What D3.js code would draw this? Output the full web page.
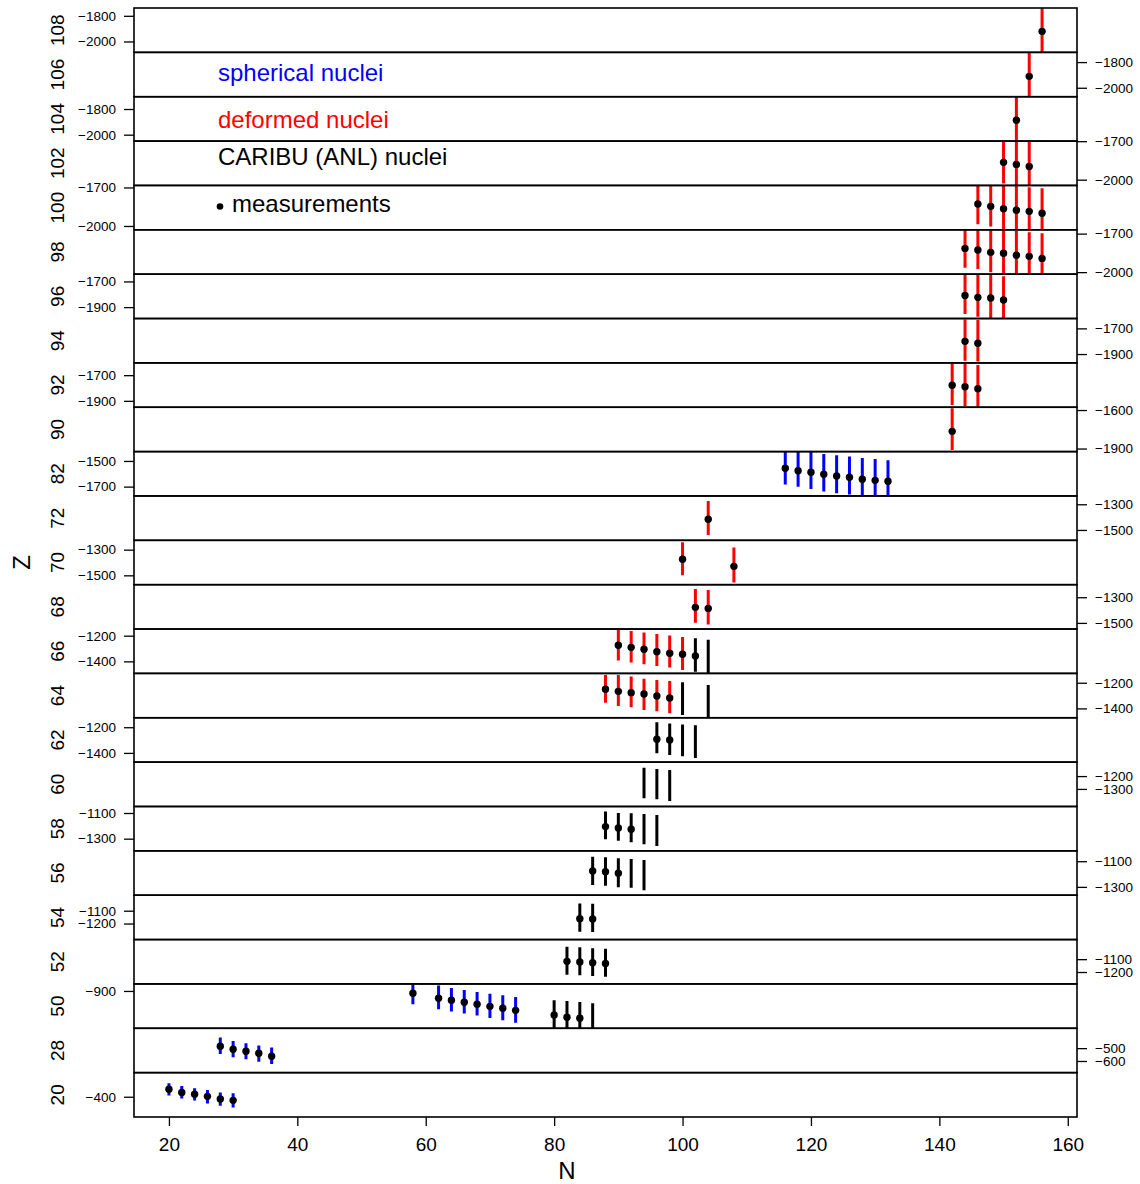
<!DOCTYPE html>
<html>
<head>
<meta charset="utf-8">
<script src="https://cdn.jsdelivr.net/npm/d3@7"></script>
<style>
body { margin: 0; background: #fff; }
text { font-family: "Liberation Sans", Arial, sans-serif; }
</style>
</head>
<body>
<script>
// one panel per proton number, bottom to top
var panelZ = [20, 28, 50, 52, 54, 56, 58, 60, 62, 64, 66, 68, 70, 72, 82, 90, 92, 94, 96, 98, 100, 102, 104, 106, 108];
var panelCentre = [-385, -518, -1018, -1120, -1152, -1192, -1222, -1264, -1299, -1300, -1321, -1375, -1400, -1408,
	-1600, -1751, -1777, -1796, -1816, -1843, -1857, -1872, -1877, -1897, -1912];
var panelSpan = 320;
var panelTicks = [[-400], [-500, -600], [-900], [-1100, -1200], [-1100, -1200], [-1100, -1300], [-1100, -1300],
	[-1200, -1300], [-1200, -1400], [-1200, -1400], [-1200, -1400], [-1300, -1500], [-1300, -1500], [-1300, -1500],
	[-1500, -1700], [-1600, -1900], [-1700, -1900], [-1700, -1900], [-1700, -1900], [-1700, -2000], [-1700, -2000],
	[-1700, -2000], [-1800, -2000], [-1800, -2000], [-1800, -2000]];
var xTicks = [20, 40, 60, 80, 100, 120, 140, 160];

// [Z, N, value, error up, error down]
var spherical = [
	[20, 20, -342, 47, 49], [20, 22, -366, 49, 47], [20, 24, -381, 47, 49], [20, 26, -397, 49, 55],
	[20, 28, -418, 52, 52], [20, 30, -428, 55, 55],
	[28, 28, -485, 68, 60], [28, 30, -509, 65, 62], [28, 32, -524, 62, 62], [28, 34, -540, 60, 65], [28, 36, -563, 68, 60],
	[50, 58, -918, 90, 86], [50, 62, -957, 99, 86], [50, 64, -973, 96, 88], [50, 66, -988, 96, 88],
	[50, 68, -1004, 96, 88], [50, 70, -1020, 99, 91], [50, 72, -1035, 101, 93], [50, 74, -1051, 104, 96],
	[82, 116, -1557, 155, 126], [82, 118, -1576, 155, 125], [82, 120, -1588, 158, 130], [82, 122, -1604, 158, 135],
	[82, 124, -1617, 161, 135], [82, 126, -1627, 161, 135], [82, 128, -1643, 166, 135], [82, 130, -1651, 166, 135],
	[82, 132, -1658, 163, 135]
];

var deformed = [
	[64, 88, -1251, 111, 104], [64, 90, -1267, 127, 114], [64, 92, -1277, 125, 114], [64, 94, -1288, 119, 125],
	[64, 96, -1303, 125, 119], [64, 98, -1319, 132, 119],
	[66, 90, -1275, 125, 119], [66, 92, -1291, 127, 117], [66, 94, -1306, 130, 117], [66, 96, -1325, 138, 111],
	[66, 98, -1337, 138, 111], [66, 100, -1345, 135, 122],
	[68, 102, -1379, 143, 119], [68, 104, -1387, 143, 125],
	[70, 100, -1375, 132, 125], [70, 108, -1430, 146, 125],
	[72, 104, -1417, 143, 122],
	[90, 142, -1766, 179, 146],
	[92, 142, -1779, 171, 153], [92, 144, -1790, 182, 150], [92, 146, -1806, 185, 140],
	[94, 144, -1801, 171, 151], [94, 146, -1816, 182, 143],
	[96, 144, -1810, 175, 144], [96, 146, -1824, 180, 151], [96, 148, -1829, 180, 160], [96, 150, -1845, 185, 165],
	[98, 144, -1815, 175, 150], [98, 146, -1828, 180, 148], [98, 148, -1846, 180, 155], [98, 150, -1853, 185, 165],
	[98, 152, -1869, 190, 170], [98, 154, -1877, 187, 165], [98, 156, -1893, 195, 160],
	[100, 146, -1829, 143, 158], [100, 148, -1847, 165, 158], [100, 150, -1866, 180, 170], [100, 152, -1878, 190, 175],
	[100, 154, -1886, 187, 170], [100, 156, -1901, 195, 175],
	[102, 150, -1865, 161, 164], [102, 152, -1881, 200, 190], [102, 154, -1897, 192, 180],
	[104, 152, -1888, 200, 200],
	[106, 154, -1911, 200, 200],
	[108, 156, -1921, 200, 200]
];

var caribuMeasured = [
	[50, 80, -1087, 114, 114], [50, 82, -1105, 127, 127], [50, 84, -1113, 127, 127],
	[52, 82, -1117, 114, 104], [52, 84, -1122, 114, 104], [52, 86, -1128, 114, 104], [52, 88, -1133, 114, 104],
	[54, 84, -1162, 119, 101], [54, 86, -1164, 119, 101],
	[56, 86, -1176, 111, 109], [56, 88, -1182, 112, 110], [56, 90, -1194, 117, 109],
	[58, 88, -1206, 117, 99], [58, 90, -1217, 117, 100], [58, 92, -1227, 125, 101],
	[62, 96, -1294, 132, 109], [62, 98, -1300, 130, 117],
	[66, 102, -1358, 138, 122]
];

// CARIBU nuclei without a measurement: [Z, N, upper, lower]
var caribuRange = [
	[50, 86, -996, -1220],
	[56, 92, -1083, -1307], [56, 94, -1091, -1327],
	[58, 94, -1108, -1344], [58, 96, -1115, -1357],
	[60, 94, -1135, -1373], [60, 96, -1145, -1381], [60, 98, -1153, -1394],
	[62, 100, -1178, -1427], [62, 102, -1185, -1440],
	[64, 100, -1196, -1451], [64, 104, -1217, -1480],
	[66, 104, -1231, -1491]
];

var legendLabels = ["spherical nuclei", "deformed nuclei", "CARIBU (ANL) nuclei", "measurements"];
var legendColors = ["blue", "red", "black", "black"];

var canvasWidth = 1140, canvasHeight = 1184;
var margin = {top: 8, right: 63, bottom: 67, left: 134};
var plotWidth = canvasWidth - margin.left - margin.right;
var plotHeight = canvasHeight - margin.top - margin.bottom;
var panelHeight = plotHeight / panelZ.length;
var svg, xScale, yScales = [];

initCanvas();
drawPanels();
drawAxes();
drawLegend();

function initCanvas() {
	svg = d3.select("body").append("svg")
		.attr("width", canvasWidth)
		.attr("height", canvasHeight);

	var allN = [].concat(spherical, deformed, caribuMeasured, caribuRange).map(function(d) { return d[1]; });
	var nMin = d3.min(allN), nMax = d3.max(allN);
	var pad = 0.04 * (nMax - nMin);
	xScale = d3.scaleLinear()
		.domain([nMin - pad, nMax + pad])
		.range([margin.left, margin.left + plotWidth]);

	panelZ.forEach(function(z, i) {
		var top = margin.top + (panelZ.length - 1 - i) * panelHeight;
		var lo = panelCentre[i] - panelSpan / 2, hi = panelCentre[i] + panelSpan / 2;
		var ext = 0.04 * (hi - lo);
		yScales[i] = d3.scaleLinear()
			.domain([lo - ext, hi + ext])
			.range([top + panelHeight, top]);
	});
}

function panelIndex(z) {
	return panelZ.indexOf(z);
}

function drawPanels() {
	var defs = svg.append("defs");

	panelZ.forEach(function(z, i) {
		var top = margin.top + (panelZ.length - 1 - i) * panelHeight;
		defs.append("clipPath").attr("id", "clip" + i)
			.append("rect")
			.attr("x", margin.left).attr("y", top)
			.attr("width", plotWidth).attr("height", panelHeight);
	});

	var marks = svg.append("g");

	function drawBars(data, colour) {
		data.forEach(function(d) {
			var i = panelIndex(d[0]), y = yScales[i];
			marks.append("line")
				.attr("clip-path", "url(#clip" + i + ")")
				.attr("x1", xScale(d[1])).attr("x2", xScale(d[1]))
				.attr("y1", y(d[2] + d[3])).attr("y2", y(d[2] - d[4]))
				.attr("stroke", colour)
				.attr("stroke-width", 3);
		});
	}

	drawBars(spherical, "blue");
	drawBars(deformed, "red");
	drawBars(caribuMeasured, "black");

	caribuRange.forEach(function(d) {
		var i = panelIndex(d[0]), y = yScales[i];
		marks.append("line")
			.attr("clip-path", "url(#clip" + i + ")")
			.attr("x1", xScale(d[1])).attr("x2", xScale(d[1]))
			.attr("y1", y(d[2])).attr("y2", y(d[3]))
			.attr("stroke", "black")
			.attr("stroke-width", 3);
	});

	[].concat(spherical, deformed, caribuMeasured).forEach(function(d) {
		var i = panelIndex(d[0]);
		marks.append("circle")
			.attr("clip-path", "url(#clip" + i + ")")
			.attr("cx", xScale(d[1]))
			.attr("cy", yScales[i](d[2]))
			.attr("r", 3.7)
			.attr("fill", "black");
	});

	// panel boxes
	panelZ.forEach(function(z, i) {
		var top = margin.top + (panelZ.length - 1 - i) * panelHeight;
		svg.append("rect")
			.attr("x", margin.left).attr("y", top)
			.attr("width", plotWidth).attr("height", panelHeight)
			.attr("fill", "none")
			.attr("stroke", "black")
			.attr("stroke-width", 1.6);
	});
}

function drawAxes() {
	panelZ.forEach(function(z, i) {
		var left = (i % 2 == 0);
		var axis = (left ? d3.axisLeft(yScales[i]) : d3.axisRight(yScales[i]))
			.tickValues(panelTicks[i])
			.tickSize(10)
			.tickPadding(8)
			.tickFormat(d3.format("d"));

		var g = svg.append("g")
			.attr("transform", "translate(" + (left ? margin.left : margin.left + plotWidth) + ",0)")
			.call(axis);
		g.select(".domain").remove();
		g.selectAll("line").attr("stroke", "black").attr("stroke-width", 1.3);
		g.selectAll("text").attr("font-size", "13.5px").attr("fill", "#000")
			.style("font-family", "'Liberation Sans', Arial, sans-serif");

		var mid = yScales[i].range()[1] + panelHeight / 2;
		svg.append("text")
			.attr("transform", "translate(64," + mid + ") rotate(-90)")
			.attr("text-anchor", "middle")
			.attr("font-size", "19px")
			.text(z);
	});

	var bottom = margin.top + plotHeight;
	var gx = svg.append("g")
		.attr("transform", "translate(0," + bottom + ")")
		.call(d3.axisBottom(xScale).tickValues(xTicks).tickSize(9).tickPadding(12));
	gx.select(".domain").remove();
	gx.selectAll("line").attr("stroke", "black").attr("stroke-width", 1.3);
	gx.selectAll("text").attr("font-size", "19px").attr("fill", "#000")
		.style("font-family", "'Liberation Sans', Arial, sans-serif");

	svg.append("text")
		.attr("x", 567)
		.attr("y", 1179)
		.attr("text-anchor", "middle")
		.attr("font-size", "24px")
		.text("N");

	svg.append("text")
		.attr("transform", "translate(30," + (margin.top + plotHeight / 2) + ") rotate(-90)")
		.attr("text-anchor", "middle")
		.attr("font-size", "24px")
		.text("Z");
}

function drawLegend() {
	var baselines = [81, 128, 165, 211.5];
	legendLabels.forEach(function(label, i) {
		svg.append("text")
			.attr("x", i == 3 ? 232 : 218)
			.attr("y", baselines[i])
			.attr("font-size", "24px")
			.attr("fill", legendColors[i])
			.text(label);
	});
	svg.append("circle")
		.attr("cx", 220).attr("cy", 206.5)
		.attr("r", 3.3)
		.attr("fill", "black");
}
</script>
</body>
</html>
